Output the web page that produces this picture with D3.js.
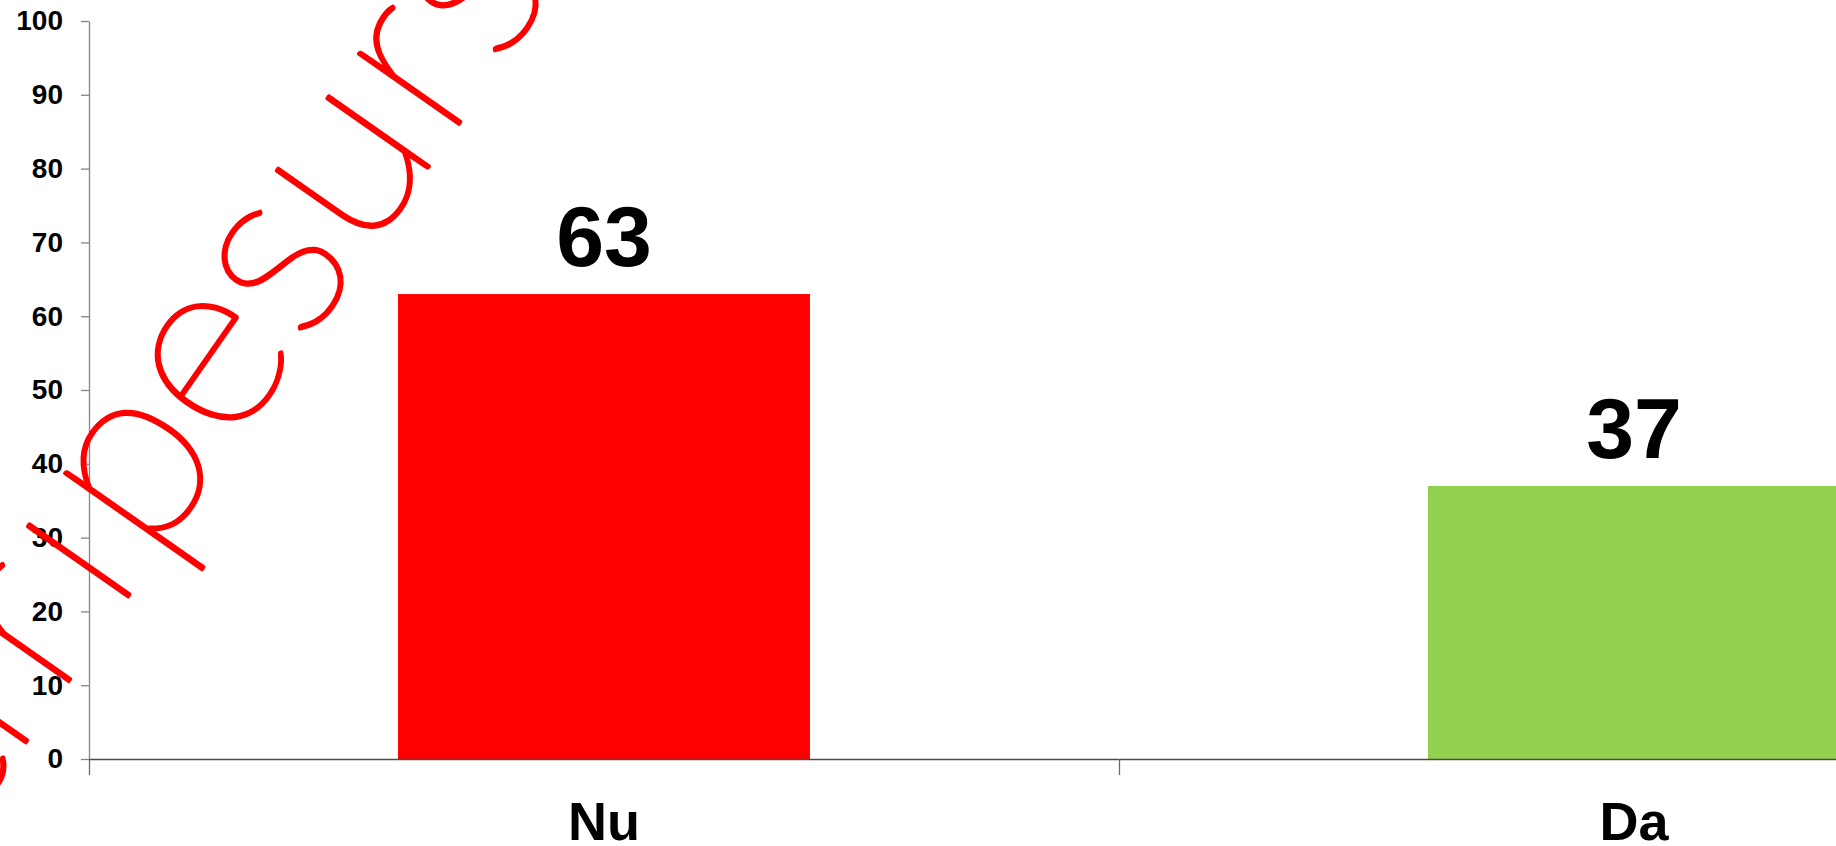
<!DOCTYPE html>
<html>
<head>
<meta charset="utf-8">
<script src="https://cdn.jsdelivr.net/npm/d3@7"></script>
<style>
  html, body { margin: 0; padding: 0; background: #fff; overflow: hidden; }
  svg { display: block; }
</style>
</head>
<body>
<script>
// ---- data ----
const categories = ["Nu", "Da"];
const values = [63, 37];
const barColors = ["#FF0000", "#92D050"];
const yTicks = [0, 10, 20, 30, 40, 50, 60, 70, 80, 90, 100];
const watermarkText = "stiripesurse.ro";

const W = 1836, H = 846;
const plotLeft = 89, plotTop = 21, plotBottom = 759;
const step = 1030;

const svg = d3.select("body").append("svg")
  .attr("width", W).attr("height", H);

const y = d3.scaleLinear().domain([0, 100]).range([plotBottom, plotTop]);
const x = d3.scaleBand().domain(categories)
  .range([plotLeft, plotLeft + step * categories.length])
  .paddingInner(0.6).paddingOuter(0.3);
const xb = d3.scaleLinear().domain([0, categories.length])
  .range([plotLeft, plotLeft + step * categories.length]);

const font = "'Liberation Sans', Arial, sans-serif";

// bars
svg.append("g").selectAll("rect").data(values).join("rect")
  .attr("x", (d, i) => x(categories[i]))
  .attr("y", d => y(d))
  .attr("width", x.bandwidth())
  .attr("height", d => y(0) - y(d))
  .attr("fill", (d, i) => barColors[i]);

// value labels
svg.append("g").selectAll("text").data(values).join("text")
  .attr("x", (d, i) => x(categories[i]) + x.bandwidth() / 2)
  .attr("y", d => y(d) - 28)
  .attr("text-anchor", "middle")
  .attr("font-family", font).attr("font-weight", "bold")
  .attr("font-size", 86).attr("fill", "#000")
  .text(d => d);

// y axis
const yAxis = svg.append("g").attr("transform", `translate(${plotLeft},0)`)
  .call(d3.axisLeft(y).tickValues(yTicks).tickSize(8).tickPadding(18).tickSizeOuter(0));
yAxis.select(".domain").attr("stroke", "#858585").attr("stroke-width", 1.3);
yAxis.selectAll(".tick line").attr("stroke", "#858585").attr("stroke-width", 1.3);
yAxis.selectAll(".tick text")
  .attr("font-family", font).attr("font-weight", "bold")
  .attr("font-size", 28).attr("fill", "#000");

// x axis (boundary ticks)
const xAxis = svg.append("g").attr("transform", `translate(0,${plotBottom})`)
  .call(d3.axisBottom(xb).tickValues(d3.range(categories.length + 1)).tickSize(16).tickFormat("").tickSizeOuter(0));
xAxis.select(".domain").attr("stroke", "#4a4a4a").attr("stroke-width", 1.5);
xAxis.selectAll(".tick line").attr("stroke", "#6a6a6a").attr("stroke-width", 1.3);

// category labels
const xLab = svg.append("g").attr("transform", `translate(0,${plotBottom})`)
  .call(d3.axisBottom(x).tickSize(0).tickPadding(0));
xLab.select(".domain").remove();
xLab.selectAll(".tick text")
  .attr("dy", null).attr("y", 81)
  .attr("font-family", font).attr("font-weight", "bold")
  .attr("font-size", 54).attr("fill", "#000");

// watermark: monoline letters placed on serif-font letter positions
const wm = svg.append("g").attr("transform", "translate(-97,918) rotate(-55)");
const ref = wm.append("text")
  .attr("font-family", "'Liberation Serif', 'Times New Roman', serif")
  .attr("font-size", 278).attr("fill", "none").attr("visibility", "hidden")
  .text(watermarkText);
const thin = wm.append("text")
  .attr("font-family", "Lato, sans-serif").attr("font-weight", 100)
  .attr("font-size", 250).attr("fill", "none").attr("visibility", "hidden")
  .text(watermarkText);
const rn = ref.node(), tn = thin.node();
const xs = [];
for (let i = 0; i < watermarkText.length; i++) {
  const rc = rn.getStartPositionOfChar(i).x + rn.getSubStringLength(i, 1) / 2;
  xs.push(rc - tn.getSubStringLength(i, 1) / 2);
}
ref.remove(); thin.remove();
wm.append("text")
  .attr("font-family", "Lato, sans-serif").attr("font-weight", 100)
  .attr("font-size", 250)
  .attr("x", xs.join(" ")).attr("y", 0)
  .attr("fill", "#FF0000").attr("stroke", "#FF0000").attr("stroke-width", 3.5)
  .attr("stroke-linejoin", "round")
  .text(watermarkText);
</script>
</body>
</html>
